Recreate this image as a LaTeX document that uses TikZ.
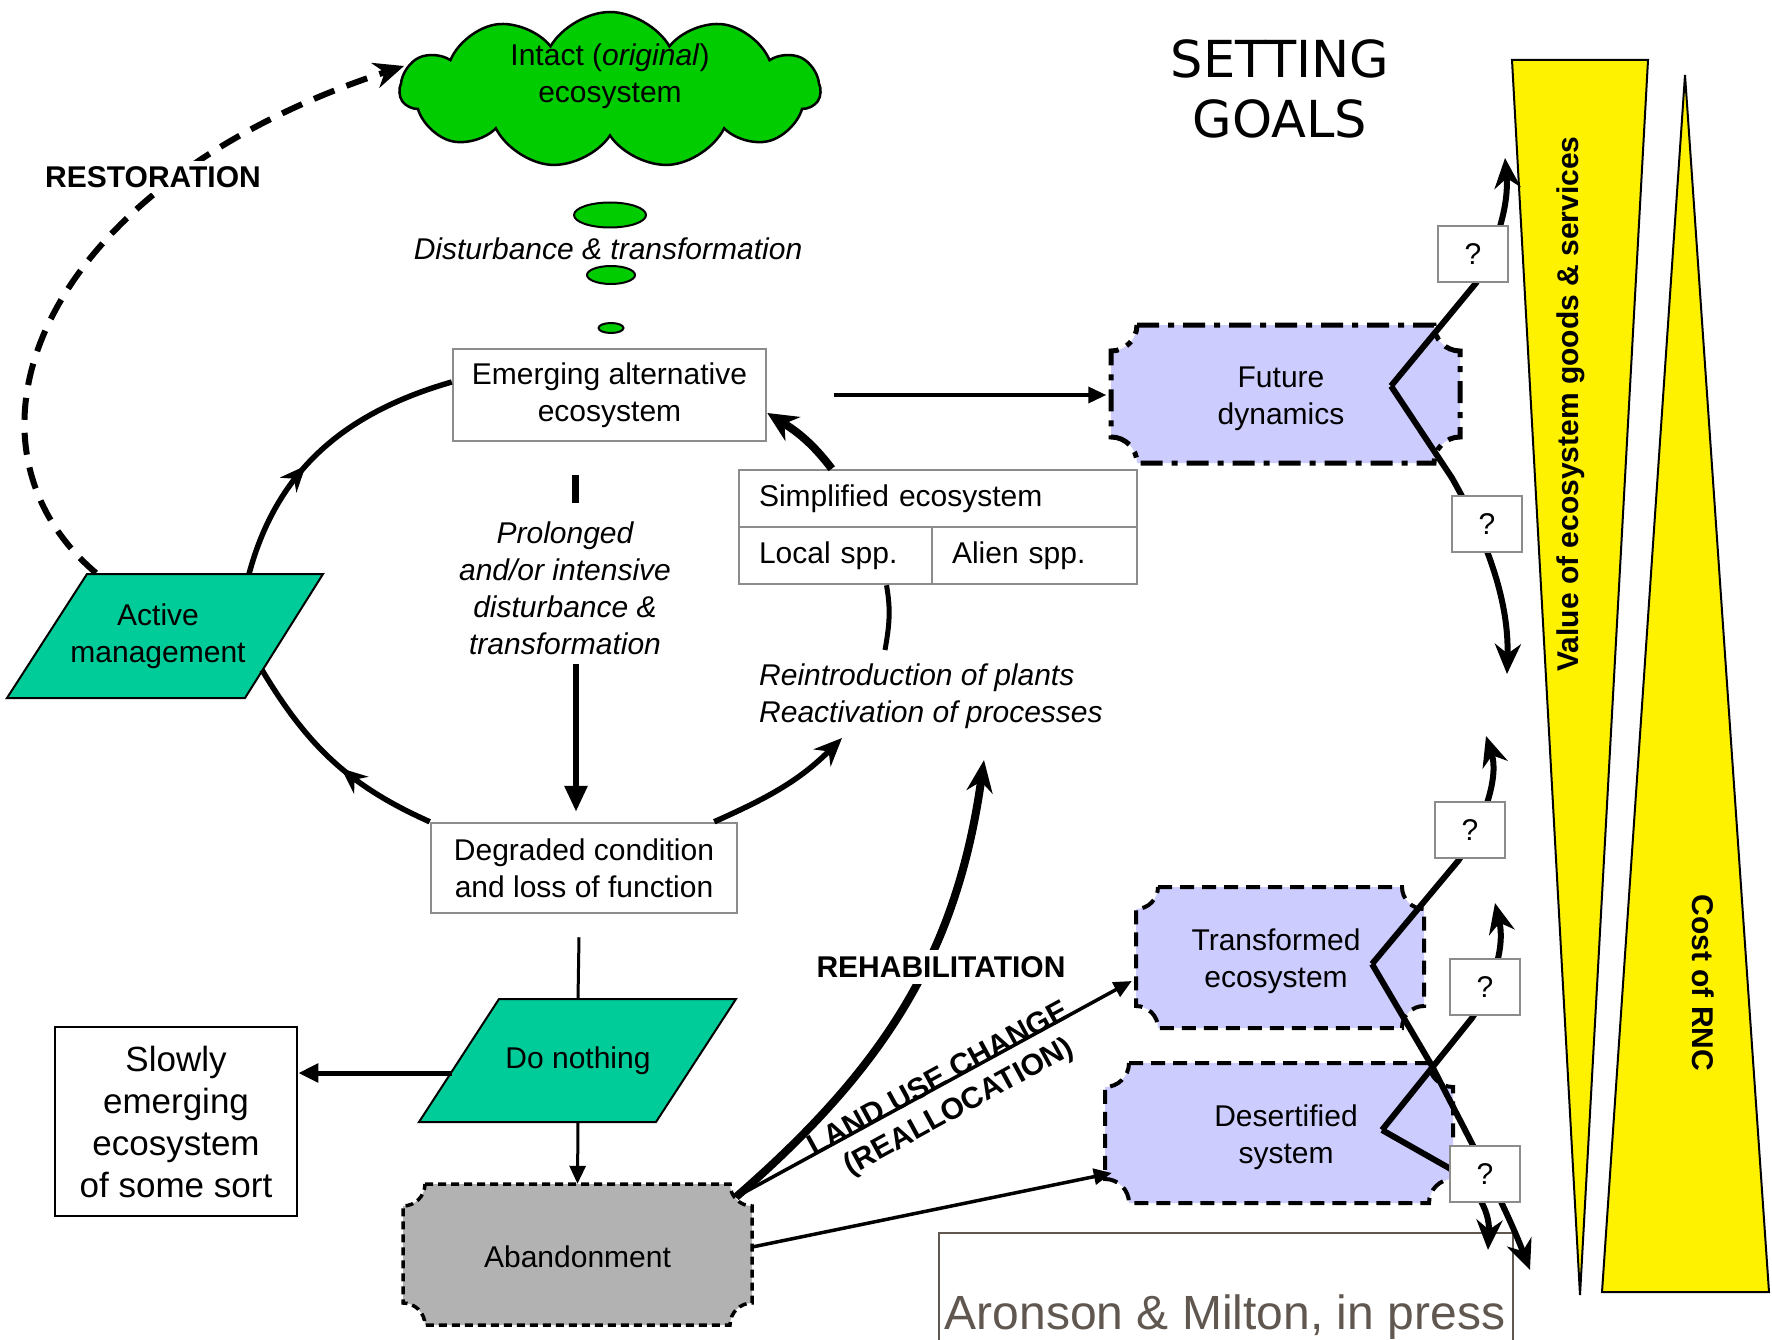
\documentclass[tikz,border=0pt]{standalone}
\usepackage{fontspec}
\setmainfont{Liberation Sans}
\newfontfamily\titlefont{DejaVu Sans}
\usetikzlibrary{arrows.meta,shapes.symbols,shapes.geometric,decorations.markings,calc}

\definecolor{leafgreen}{RGB}{0,204,0}
\definecolor{mgmtgreen}{RGB}{0,204,153}
\definecolor{futureblue}{RGB}{204,204,255}
\definecolor{abandongray}{RGB}{178,178,178}
\definecolor{cellgray}{RGB}{140,140,140}
\definecolor{citegray}{RGB}{96,88,80}

\newcommand\mainsize{\fontsize{30pt}{37pt}\selectfont}

% rectangle with concave (inward) rounded corners: style, x1, y1, x2, y2, radius
\newcommand\plaquebox[6]{%
  \path[#1] (#2+#6,#3) -- (#4-#6,#3)
    .. controls (#4-#6,#3+0.55*#6) and (#4-0.55*#6,#3+#6) .. (#4,#3+#6)
    -- (#4,#5-#6)
    .. controls (#4-0.55*#6,#5-#6) and (#4-#6,#5-0.55*#6) .. (#4-#6,#5)
    -- (#2+#6,#5)
    .. controls (#2+#6,#5-0.55*#6) and (#2+0.55*#6,#5-#6) .. (#2,#5-#6)
    -- (#2,#3+#6)
    .. controls (#2+0.55*#6,#3+#6) and (#2+#6,#3+0.55*#6) .. (#2+#6,#3)
    -- cycle;}

\begin{document}
\begin{tikzpicture}[x=1pt,y=-1pt,
  txt/.style={font=\mainsize, align=center, inner sep=0pt},
  ittxt/.style={font=\mainsize\itshape, align=center, inner sep=0pt},
  boldtxt/.style={font=\mainsize\bfseries, align=center, inner sep=0pt},
  cellbox/.style={draw=cellgray, line width=2.5pt, fill=white, font=\mainsize, align=center, inner sep=0pt},
  qbox/.style={cellbox, minimum width=70pt, minimum height=56pt},
  bubble/.style={ellipse, draw, line width=2pt, fill=leafgreen, inner sep=0pt},
  shapeline/.style={draw=black, line width=2pt, fill=mgmtgreen},
  futurestyle/.style={fill=futureblue, draw=black, line width=5pt, dash pattern=on 22pt off 9pt on 6pt off 9pt},
  outcomestyle/.style={fill=futureblue, draw=black, line width=4pt, dash pattern=on 14pt off 8pt},
  abandonstyle/.style={fill=abandongray, draw=black, line width=3.5pt, dash pattern=on 8pt off 5pt},
  wedge/.style={fill=yellow, draw=black, line width=2pt},
  cycline/.style={line width=5.5pt},
  midhead/.style={postaction={decorate}, decoration={markings, mark=at position #1 with {\arrow{Stealth[length=26pt,width=22pt]}}}},
  thinarrow/.style={line width=3.5pt, -{Triangle[length=18pt,width=16pt]}},
  zigzag/.style={line width=6pt, line join=miter, -{Stealth[length=30pt,width=26pt]}}
]
\useasboundingbox (0,0) rectangle (1772,1340);
\fill[white] (0,0) rectangle (1772,1340);

% value and cost wedges
\path[wedge] (1512,60) -- (1648,60) -- (1580,1295) -- cycle;
\path[wedge] (1685,75) -- (1769,1292) -- (1602,1292) -- cycle;
\node[boldtxt, rotate=90] (valuetxt) at (1571,404) {Value of ecosystem goods \& services};
\node[boldtxt, rotate=-90] (costtxt) at (1703,983) {Cost of RNC};

\node[font=\titlefont\fontsize{51pt}{60pt}\selectfont, align=center, inner sep=0pt] (goals) at (1280,89) {SETTING\\GOALS};

% intact ecosystem and thought bubbles
\node[cloud, cloud puffs=11, cloud puff arc=120, aspect=2.7, draw, line width=2.5pt, fill=leafgreen,
      minimum width=420pt, minimum height=156pt, inner sep=0pt] (intact) at (610,90) {};
\node[txt] (intacttxt) at (610,76) {Intact (\textit{original})\\ecosystem};
\node[bubble, minimum width=72pt, minimum height=25pt] (b1) at (610,215) {};
\node[ittxt] (disturb) at (608,249) {Disturbance \& transformation};
\node[bubble, minimum width=48pt, minimum height=18pt] (b2) at (611,275) {};
\node[bubble, minimum width=25pt, minimum height=10pt] (b3) at (611,328) {};

% citation box
\node[draw=citegray, line width=2pt, minimum width=574pt, minimum height=130pt, inner sep=0pt, anchor=north west] (citebox) at (938,1232) {};
\node[font=\fontsize{48pt}{56pt}\selectfont, text=citegray, inner sep=0pt] (cite) at (1225,1317) {Aronson \& Milton, in press};

% outcome boxes
\plaquebox{futurestyle}{1111}{325}{1460}{463}{26}
\node[txt, minimum width=349pt, minimum height=138pt] (future) at (1281,399) {Future\\dynamics};
\plaquebox{outcomestyle}{1136}{887}{1424}{1028}{22}
\node[txt, minimum width=288pt, minimum height=141pt] (transformed) at (1276,961) {Transformed\\ecosystem};
\plaquebox{outcomestyle}{1105}{1063}{1453}{1203}{24}
\node[txt, minimum width=348pt, minimum height=140pt] (desertified) at (1286,1137) {Desertified\\system};
\plaquebox{abandonstyle}{403}{1184}{752}{1325}{22}
\node[txt, minimum width=349pt, minimum height=141pt] (abandonment) at (577.5,1257) {Abandonment};

% states
\node[cellbox, minimum width=313pt, minimum height=92pt] (emerging) at (609.5,395) {Emerging alternative\\ecosystem};
\node[cellbox, minimum width=398pt, minimum height=57pt, text width=358pt, align=left] (simplified) at (938,498.5) {Simplified ecosystem};
\node[cellbox, minimum width=193pt, minimum height=57pt, text width=153pt, align=left] (local) at (835.5,555.5) {Local spp.};
\node[cellbox, minimum width=205pt, minimum height=57pt, text width=165pt, align=left] (alien) at (1034.5,555.5) {Alien spp.};
\node[cellbox, minimum width=306pt, minimum height=90pt] (degraded) at (584,868) {Degraded condition\\and loss of function};
\node[draw, line width=2.5pt, fill=white, font=\fontsize{35pt}{42pt}\selectfont, align=center,
      minimum width=242pt, minimum height=189pt, inner sep=0pt] (slowly) at (176,1121.5) {Slowly\\emerging\\ecosystem\\of some sort};

% decisions
\path[shapeline] (87,574) -- (323,574) -- (245,698) -- (7,698) -- cycle;
\node[txt] (active) at (158,636) {Active\\management};
\path[shapeline] (499,999) -- (736,999) -- (656,1122) -- (419,1122) -- cycle;
\node[txt, minimum width=237pt, minimum height=123pt] (donothing) at (578,1060.5) {Do nothing};

\node[ittxt] (prolonged) at (565,588) {Prolonged\\and/or intensive\\disturbance \&\\transformation};
\node[ittxt, anchor=west, align=left] (reintro) at (759,696) {Reintroduction of plants\\Reactivation of processes};

% attachment points
\coordinate (activeTop) at (249,574);
\coordinate (activeRight) at (262,670);
\coordinate (activeCorner) at (96,573);
\coordinate (restTip) at (404,66);
\coordinate (reintroIn) at (842,738);
\coordinate (reintroOut) at (885,650);
\coordinate (stubTop) at (575,475);
\coordinate (stubBot) at (575,503);
\coordinate (dnLeft) at (452,1073);
\coordinate (abOut) at (736,1197);
\coordinate (rehabTip) at (984,760);
\coordinate (emOut) at ([xshift=67pt]emerging.east);

% restoration
\draw[line width=6pt, dash pattern=on 22pt off 13pt, -{Stealth[length=30pt,width=26pt]}]
  (activeCorner) .. controls (-60,440) and (40,185) .. (restTip);
\node[boldtxt, fill=white, inner sep=5pt] (restoration) at (153,177) {RESTORATION};

% management cycle
\draw[cycline, midhead=0.42] (activeTop) to[out=75,in=196] ([yshift=13pt]emerging.west);
\draw[cycline, midhead=0.45] (degraded.north west) to[out=156,in=-59] (activeRight);
\draw[cycline, -{Stealth[length=28pt,width=24pt]}] ([xshift=-24pt]degraded.north east) to[out=24,in=225] (reintroIn);
\draw[line width=8pt, -{Stealth[length=30pt,width=28pt]}] ([xshift=94pt]simplified.north west) to[out=127,in=-32] ([yshift=-18pt]emerging.east);
\draw[line width=5pt] (reintroOut) to[out=80,in=-80] ([xshift=51pt]local.south);
\draw[line width=7pt] (stubTop) -- (stubBot);
\draw[line width=6pt, shorten >=10pt, -{Triangle[length=26pt,width=22pt]}] ([xshift=11pt,yshift=-9pt]prolonged.south) -- ([xshift=-8pt]degraded.north);

\draw[thinarrow] (emOut) -- (emOut -| future.west);

% degraded land pathways
\draw[line width=3pt] ([xshift=-5pt,yshift=-23pt]degraded.south) -- (donothing.north);
\draw[line width=3pt, -{Triangle[length=18pt,width=16pt]}] (donothing.south) -- ([yshift=2.5pt]abandonment.north);
\draw[line width=5pt, -{Triangle[length=20pt,width=18pt]}] (dnLeft) -- ([yshift=48.5pt]slowly.east);

\draw[line width=8pt, -{Stealth[length=32pt,width=26pt]}] (abOut) to[out=41,in=262] (rehabTip);
\node[boldtxt, fill=white, inner xsep=2pt, inner ysep=6pt] (rehab) at (941,967) {REHABILITATION};

\draw[thinarrow] (abOut) --
  node[boldtxt, sloped, pos=0.52, above, yshift=-4pt] {LAND USE CHANGE}
  node[boldtxt, sloped, pos=0.53, below=13pt] {(REALLOCATION)}
  ([yshift=-20pt]transformed.west);
\draw[thinarrow] ([yshift=10pt]abandonment.east) -- ([yshift=-36pt]desertified.west);

% uncertain trajectories
\coordinate (vA) at (1391,386);
\coordinate (vB) at (1372,964);
\coordinate (vC) at (1382,1130);
\draw[zigzag] (vA) -- (1476,283) .. controls (1497,245) and (1509,205) .. (1505,158);
\draw[zigzag] (vA) -- (1452,478) .. controls (1490,545) and (1509,605) .. (1507,674);
\draw[zigzag] (vB) -- (1458,861) .. controls (1480,830) and (1500,780) .. (1486,736);
\draw[zigzag] (vB) -- (1432,1066) .. controls (1470,1140) and (1505,1205) .. (1530,1270);
\draw[zigzag] (vC) -- (1472,1018) .. controls (1490,990) and (1506,950) .. (1495,903);
\draw[zigzag] (vC) -- (1449,1168) .. controls (1475,1185) and (1490,1210) .. (1488,1250);

\node[qbox] (q1) at (1473,254) {?};
\node[qbox] (q2) at (1487,524) {?};
\node[qbox] (q3) at (1470,830) {?};
\node[qbox] (q4) at (1485,987) {?};
\node[qbox] (q5) at (1485,1174) {?};
\end{tikzpicture}
\end{document}
